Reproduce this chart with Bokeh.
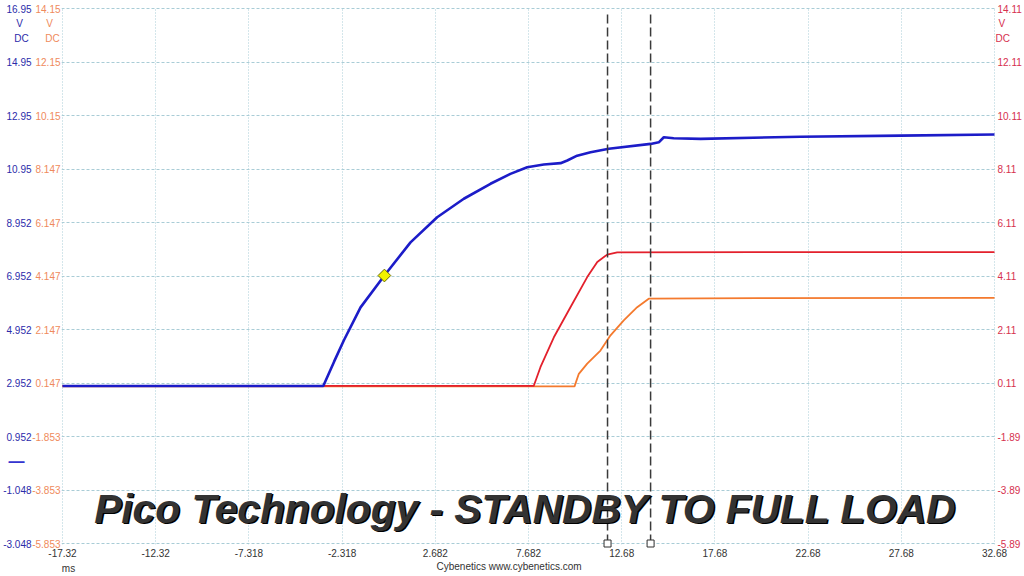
import math
from bokeh.plotting import figure
from bokeh.models import Range1d, Grid, FixedTicker, ColumnDataSource
from bokeh.core.properties import value
from bokeh.embed import file_html
from bokeh.resources import INLINE

# ---- axis ticks ----
x_ticks = [-17.32, -12.32, -7.318, -2.318, 2.682, 7.682, 12.68, 17.68, 22.68, 27.68, 32.68]
x_tick_labels = ["-17.32", "-12.32", "-7.318", "-2.318", "2.682", "7.682", "12.68",
                 "17.68", "22.68", "27.68", "32.68"]
blue_ticks = [16.952, 14.952, 12.952, 10.952, 8.952, 6.952, 4.952, 2.952, 0.952, -1.048, -3.048]
blue_tick_labels = ["16.95", "14.95", "12.95", "10.95", "8.952", "6.952", "4.952",
                    "2.952", "0.952", "-1.048", "-3.048"]
orange_ticks = [14.147, 12.147, 10.147, 8.147, 6.147, 4.147, 2.147, 0.147, -1.853, -3.853, -5.853]
orange_tick_labels = ["14.15", "12.15", "10.15", "8.147", "6.147", "4.147", "2.147",
                      "0.147", "-1.853", "-3.853", "-5.853"]
red_ticks = [14.11, 12.11, 10.11, 8.11, 6.11, 4.11, 2.11, 0.11, -1.89, -3.89, -5.89]
red_tick_labels = ["14.11", "12.11", "10.11", "8.11", "6.11", "4.11", "2.11",
                   "0.11", "-1.89", "-3.89", "-5.89"]

# ---- traces (time in ms, volts) ----
blue_t = [-17.32, -3.33, -2.75, -2.23, -1.33, -0.05, 1.35, 2.78, 4.21, 5.64, 6.71, 7.61, 8.50,
          9.40, 9.76, 10.29, 11.01, 11.99, 14.23, 14.67, 14.94, 15.47, 16.91, 22.27, 27.64, 32.68]
blue_v = [2.84, 2.84, 3.75, 4.54, 5.78, 6.97, 8.21, 9.15, 9.84, 10.40, 10.77, 11.02, 11.12,
          11.17, 11.27, 11.45, 11.58, 11.71, 11.89, 11.95, 12.14, 12.10, 12.08, 12.16, 12.20, 12.24]

red_t = [-17.32, 7.96, 8.32, 9.04, 9.93, 10.83, 11.37, 11.90, 12.44, 20.0, 32.68]
red_v = [0.0, 0.0, 0.70, 1.82, 2.94, 4.07, 4.63, 4.91, 4.99, 5.00, 5.00]

orange_t = [-17.32, 10.15, 10.38, 10.83, 11.54, 12.08, 12.79, 13.51, 14.13, 20.0, 32.68]
orange_v = [0.02, 0.02, 0.49, 0.87, 1.36, 1.93, 2.49, 2.98, 3.30, 3.32, 3.33]

marker_t = [-0.05]
marker_v = [6.97]

cursor_t = [11.92, 14.23]

title_text = "Pico Technology - STANDBY TO FULL LOAD"

BLUE = "#1c1cc8"
RED = "#e3202c"
ORANGE = "#f47a2e"
GRID = "#a9ccd6"
BLUE_TXT = "#2b2baa"
ORANGE_TXT = "#ef8a5c"
RED_TXT = "#d6304e"

XPAD = 50.0 / 932
YPAD = 20.0 / 535
p = figure(width=1024, height=576, output_backend="svg", toolbar_location=None,
           x_axis_type=None, y_axis_type=None,
           x_range=Range1d(-17.32 - XPAD, 32.68 + XPAD),
           y_range=Range1d(-3.048 - YPAD, 16.952 + YPAD),
           min_border_left=61, min_border_right=29, min_border_top=7, min_border_bottom=32)
p.extra_y_ranges = {"orange": Range1d(-5.853 - YPAD, 14.147 + YPAD),
                    "red": Range1d(-5.89 - YPAD, 14.11 + YPAD)}
p.outline_line_color = None
p.background_fill_color = "white"
p.border_fill_color = "white"

p.add_layout(Grid(dimension=0, ticker=FixedTicker(ticks=x_ticks),
                  grid_line_color=GRID, grid_line_dash="1 2", grid_line_width=1))
p.add_layout(Grid(dimension=1, ticker=FixedTicker(ticks=blue_ticks),
                  grid_line_color=GRID, grid_line_dash="3 2", grid_line_width=1))

# traces
p.line(orange_t, orange_v, y_range_name="orange", line_color=ORANGE, line_width=1.8)
p.line(red_t, red_v, y_range_name="red", line_color=RED, line_width=1.8)
p.line(blue_t, blue_v, line_color=BLUE, line_width=2.6)

p.scatter(marker_t, marker_v, marker="square", angle=math.pi / 4, size=9,
          fill_color="#f2f200", line_color="#6b6b00", line_width=1)

# cursors
top_v = [16.952 - 0.12] * len(cursor_t)
bot_v = [-3.048] * len(cursor_t)
p.segment(x0=cursor_t, y0=bot_v, x1=cursor_t, y1=top_v, line_color="#3a3a3a",
          line_width=1.5, line_dash="9 4")
p.scatter(cursor_t, bot_v, marker="square", size=7, fill_color="white",
          line_color="#303030", line_width=1, level="overlay")

FONT = "Liberation Sans"
FS = "10px"


def txt(xs, ys, texts, color, size=FS, style="normal", **kw):
    src = ColumnDataSource(dict(x=xs, y=ys, text=texts))
    p.text(x="x", y="y", text="text", source=src, text_color=color,
           text_font=value(FONT), text_font_size=value(size),
           text_font_style=value(style), level="overlay", **kw)


# tick labels
txt([-17.32] * len(blue_ticks), blue_ticks, blue_tick_labels, BLUE_TXT,
    x_offset=-31, text_align="right", text_baseline="middle")
txt([-17.32] * len(orange_ticks), orange_ticks, orange_tick_labels, ORANGE_TXT,
    x_offset=-2, text_align="right", text_baseline="middle", y_range_name="orange")
txt([32.68] * len(red_ticks), red_ticks, red_tick_labels, RED_TXT,
    x_offset=3, text_align="left", text_baseline="middle", y_range_name="red")
txt(x_ticks, [-3.048] * len(x_ticks), x_tick_labels, "#333333",
    y_offset=5, text_align="center", text_baseline="top")

# units (V / DC under the top tick of each channel)
txt([-17.32], [16.952], ["V"], BLUE_TXT, x_offset=-43, y_offset=15, text_align="center", text_baseline="middle")
txt([-17.32], [16.952], ["DC"], BLUE_TXT, x_offset=-41, y_offset=30, text_align="center", text_baseline="middle")
txt([-17.32], [16.952], ["V"], ORANGE_TXT, x_offset=-13, y_offset=15, text_align="center", text_baseline="middle")
txt([-17.32], [16.952], ["DC"], ORANGE_TXT, x_offset=-10, y_offset=30, text_align="center", text_baseline="middle")
txt([32.68], [14.11], ["V"], RED_TXT, x_offset=4, y_offset=15, text_align="left", text_baseline="middle", y_range_name="red")
txt([32.68], [14.11], ["DC"], RED_TXT, x_offset=1, y_offset=30, text_align="left", text_baseline="middle", y_range_name="red")

# channel A zero marker
txt([-17.32], [0.0], ["\u2014"], "#3434d0", size="16px", style="bold", x_offset=-46,
    text_align="center", text_baseline="middle")

# bottom captions
txt([-17.0], [-3.048], ["ms"], "#333333", y_offset=25, text_align="center", text_baseline="middle")
txt([6.71], [-3.048], ["Cybenetics  www.cybenetics.com"], "#333333", y_offset=23,
    text_align="center", text_baseline="middle")

# big title with shadow
txt([7.52], [-1.74], [title_text], "#000000", size="40.7px", style="bold italic",
    x_offset=1.5, y_offset=1.5, text_align="center", text_baseline="alphabetic")
txt([7.52], [-1.74], [title_text], "#333333", size="40.7px", style="bold italic",
    text_align="center", text_baseline="alphabetic")

open("out.html", "w").write(file_html(p, INLINE))
